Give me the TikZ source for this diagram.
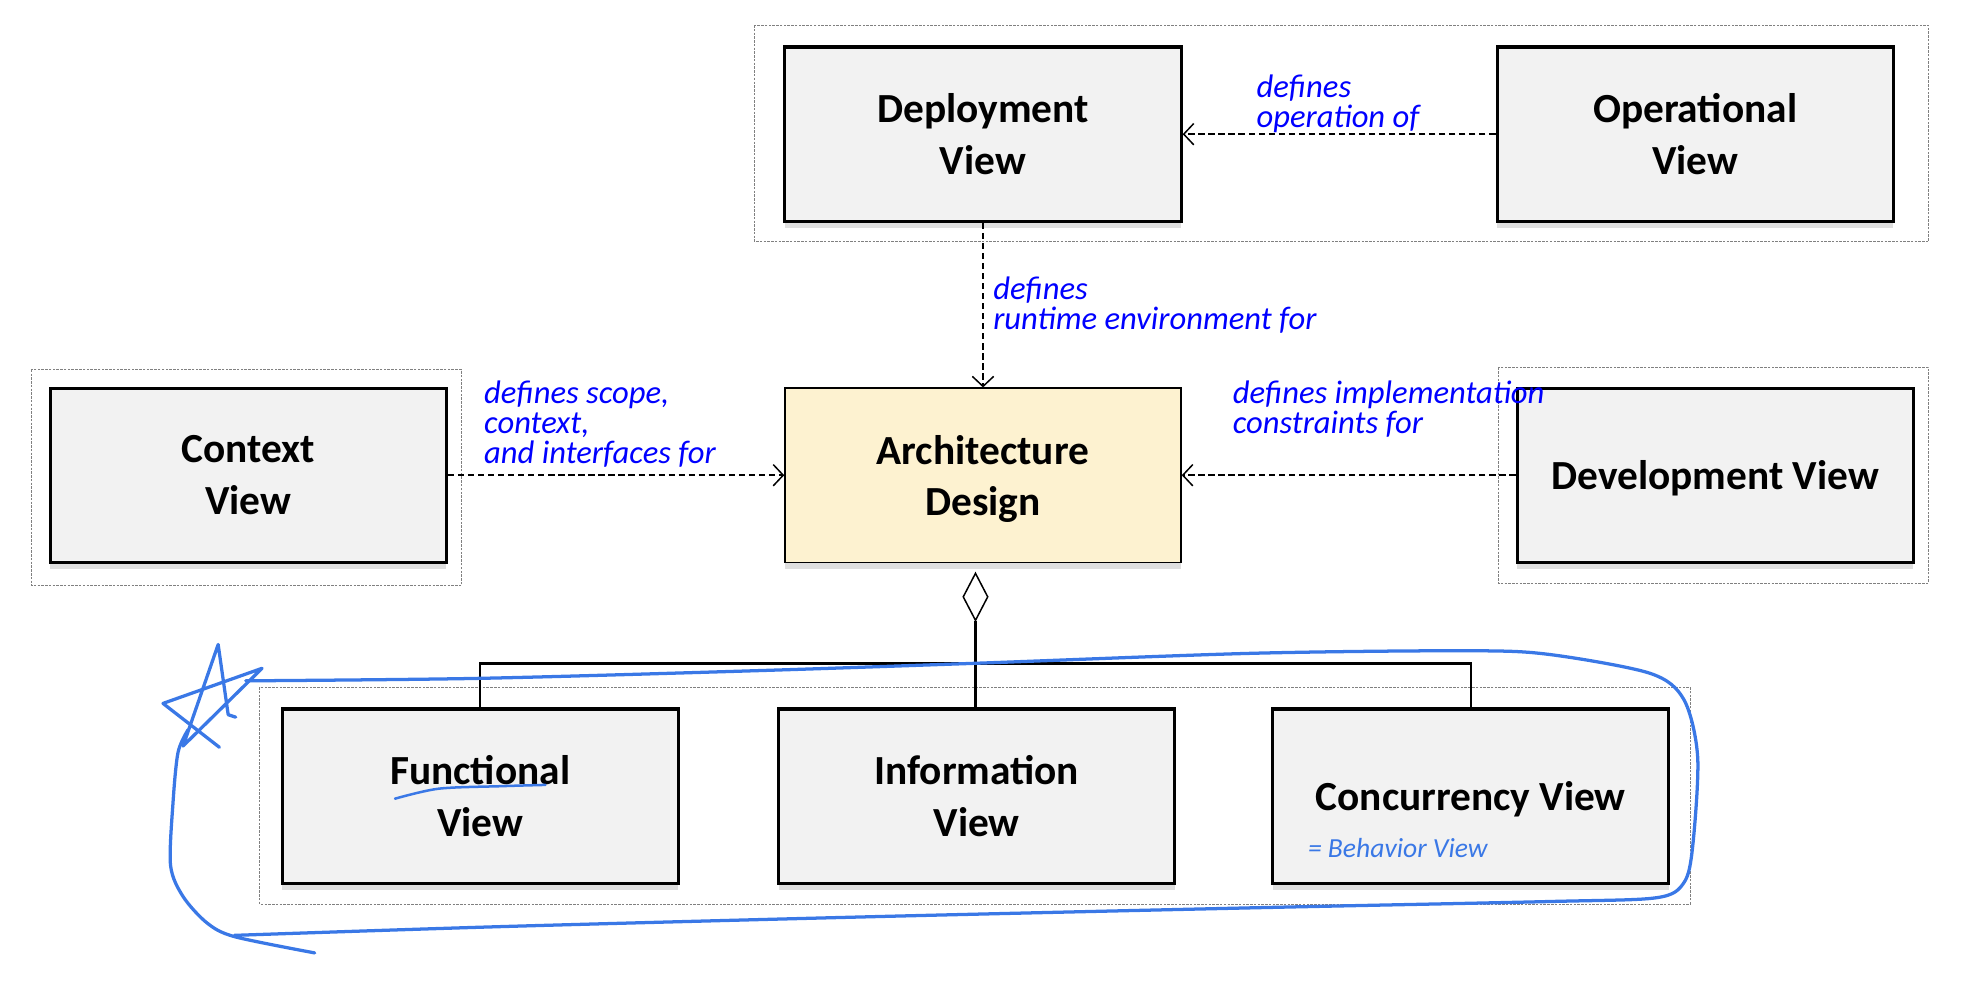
\documentclass[tikz,border=0pt]{standalone}
\usepackage{fontspec}
\setmainfont{Carlito}
\usetikzlibrary{shadows,arrows.meta,shapes.geometric}

\definecolor{boxgray}{HTML}{F2F2F2}
\definecolor{archcream}{HTML}{FDF2D0}
\definecolor{lblblue}{HTML}{0000FF}
\definecolor{penblue}{HTML}{3A78E6}

\tikzset{
	viewbox/.style={draw,line width=2.5pt,fill=boxgray,minimum width=316,minimum height=139,
		align=center,font=\bfseries\fontsize{33}{41}\selectfont,
		drop shadow={shadow xshift=0pt,shadow yshift=-5pt,opacity=.25}},
	archbox/.style={viewbox,line width=1pt,fill=archcream},
	grpbox/.style={draw=gray,line width=.8pt,dash pattern=on 2pt off 1pt},
	defarrow/.style={line width=1.4pt,dash pattern=on 5pt off 3pt,
		-{Straight Barb[length=8pt,width=17pt,line width=1.2pt]}},
	deflbl/.style={anchor=base west,inner sep=0,align=left,text=lblblue,
		font=\itshape\fontsize{26}{24}\selectfont},
	pen/.style={penblue,line width=2.6pt,line cap=round,line join=round}
}

\begin{document}
\begin{tikzpicture}[x=1pt,y=-1pt]
		\useasboundingbox (0,0) rectangle (1568,801);

		% view groups
		\draw[grpbox] (602,20) rectangle (1538,193);
		\draw[grpbox] (25,295) rectangle (368,467);
		\draw[grpbox] (1195,293) rectangle (1538,465);
		\draw[grpbox] (207,548) rectangle (1348,721);

		\node[viewbox] (dep) at (784,107)  {Deployment\\View};
		\node[viewbox] (ops) at (1352,107) {Operational\\View};
		\node[viewbox] (ctx) at (198,379)  {Context\\View};
		\node[archbox] (arch) at (784,379) {Architecture\\\raisebox{0pt}[\height][0pt]{Design}};
		\node[viewbox,text depth=0pt] (dev) at (1368,379) {Development View};
		\node[viewbox] (fun) at (383,635)  {Functional\\View};
		\node[viewbox] (inf) at (779,635)  {Information\\View};
		\node[viewbox,text depth=0pt] (con) at (1173,635) {Concurrency View};

		\node[diamond,draw,line width=1.2pt,fill=white,inner sep=0,minimum width=20,minimum height=38] (agg) at (778,476) {};

		\foreach \from/\to in {ops/dep,dep/arch,ctx/arch,dev/arch}
			\draw[defarrow] (\from) -- (\to);

		% base = last line
		\node[deflbl] (lblops) at (1002,102) {defines\\operation of};
		\node[deflbl] (lbldep) at (792,263)  {defines\\runtime environment for};
		\node[deflbl] (lblctx) at (386,370)  {defines scope,\\context,\\and interfaces for};
		\node[deflbl] (lbldev) at (983,346)  {defines implementation\\constraints for};

		% aggregation
		\draw[line width=2pt] (agg.south) -- (agg.south |- inf.north);
		\draw[line width=2pt] (fun.north) -- ++(0,-35) -| (con.north);

		% pen notes
		\draw[pen] plot[smooth,tension=.5] coordinates {(196,543) (383,541) (600,535) (778,529) (1000,521) (1172,519) (1236,522) (1316,537) (1343,558) (1354,604) (1350,675) (1343,704) (1321,716) (1236,719) (1000,724) (700,731) (400,739) (187,746)};
		\draw[pen] plot[smooth,tension=.5] coordinates {(150,582) (142,600) (138,640) (136,690) (146,715) (165,736) (187,747) (251,760)};
		\draw[pen] plot coordinates {(175,596) (130,561) (209,533) (146,595) (174,514) (182,570) (188,572)};
		\draw[pen,line width=2pt] plot[smooth] coordinates {(315,637) (350,629) (400,627) (435,626)};
		\node[anchor=west,inner sep=0,text=penblue,font=\itshape\fontsize{22}{24}\selectfont] (note) at (1043,676) {= Behavior View};
\end{tikzpicture}
\end{document}
